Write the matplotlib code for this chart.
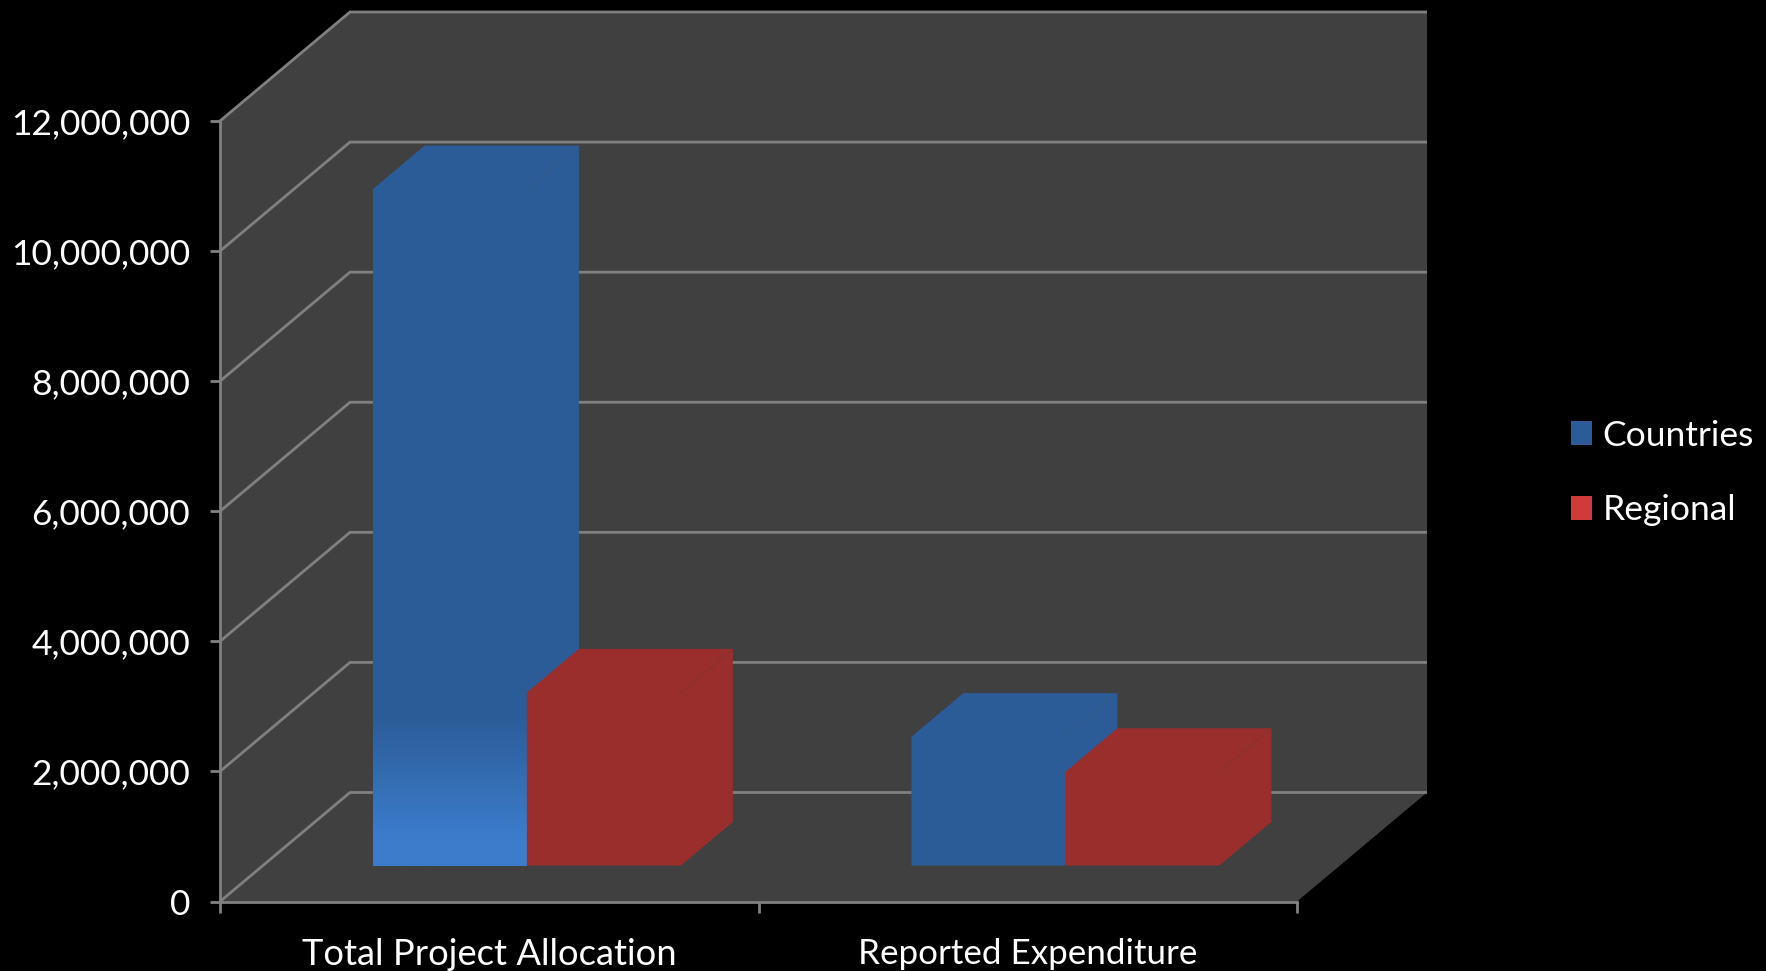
import numpy as np
import matplotlib
matplotlib.use("Agg")
import matplotlib.pyplot as plt
from matplotlib.colors import LinearSegmentedColormap
from matplotlib.patches import Patch, Polygon
from matplotlib.ticker import FuncFormatter

categories = ["Total Project Allocation", "Reported Expenditure"]
series_names = ["Countries", "Regional"]
countries = [10400000, 1980000]
regional = [2660000, 1440000]
y_ticks = [0, 2000000, 4000000, 6000000, 8000000, 10000000, 12000000]

W, H = 1766, 971
X0, X1, Y0, Y1 = 220, 1297, 901.5, 121
YMAX = 12000000
XMAX = 2.0
px_x = XMAX / (X1 - X0)
px_y = YMAX / (Y0 - Y1)
DX, DY = 130 * px_x, 109 * px_y          # full depth of the 3-D box, data units
BAR_W = 154 * px_x
BAR_START = (110 * px_x)                 # gap before group, in front plane
T_FRONT, T_BACK = 0.33, 0.73             # depth positions of bar faces

WALL = "#404040"
GRID = "#808080"
BLUE = "#2B5C97"
BLUE_LIGHT = "#3C7CCB"
RED = "#9A2E2C"
RED_LEGEND = "#CF3B38"
FONT = "Lato"
FS_Y = 25.5
FS_X = [26.2, 25.2]
FS_LEGEND = 25.5

plt.rcParams["font.family"] = [FONT, "DejaVu Sans"]
fig = plt.figure(figsize=(W / 100, H / 100), dpi=100, facecolor="black")
ax = fig.add_axes([X0 / W, 1 - Y0 / H, (X1 - X0) / W, (Y0 - Y1) / H])
ax.set_facecolor("none")


def poly(points, color, z):
    ax.add_patch(Polygon(points, closed=True, facecolor=color, edgecolor="none",
                         clip_on=False, zorder=z))


# box silhouette: left wall, floor and back wall in one shape
poly([(0, 0), (XMAX, 0), (XMAX + DX, DY), (XMAX + DX, YMAX + DY),
      (DX, YMAX + DY), (0, YMAX)], WALL, 1)

# gridlines on walls
for v in y_ticks:
    ax.plot([0, DX, XMAX + DX], [v, v + DY, v + DY], color=GRID, lw=2.0,
            clip_on=False, zorder=2, solid_joinstyle="miter",
            solid_capstyle="butt")


def bar(x_front, value, color, crease, z, gradient=False):
    x0 = x_front + T_FRONT * DX
    x1 = x0 + BAR_W
    base = T_FRONT * DY
    top = base + value
    dx = (T_BACK - T_FRONT) * DX
    dy = (T_BACK - T_FRONT) * DY
    # front, top and right side share one colour: draw the silhouette once
    poly([(x0, base), (x1, base), (x1 + dx, base + dy), (x1 + dx, top + dy),
          (x0 + dx, top + dy), (x0, top)], color, z)
    if gradient:
        cmap = LinearSegmentedColormap.from_list(
            "bar", [(0, BLUE_LIGHT), (0.043, BLUE_LIGHT), (0.22, color), (1, color)])
        ax.imshow(np.linspace(0, 1, 512).reshape(-1, 1), extent=(x0, x1, base, top),
                  origin="lower", aspect="auto", cmap=cmap, zorder=z + 0.1,
                  clip_on=False, interpolation="bilinear")
    ax.plot([x1, x1 + dx], [top, top + dy], color=crease, lw=0.5, clip_on=False,
            zorder=z + 0.2)


for i in range(len(categories)):
    start = i + BAR_START
    bar(start, countries[i], BLUE, "#3D5A80", 3 + i, gradient=(i == 0))
    bar(start + BAR_W, regional[i], RED, "#7A3434", 3.5 + i)

ax.set_xlim(0, XMAX)
ax.set_ylim(0, YMAX)

# axes, ticks and labels
for side in ("top", "right"):
    ax.spines[side].set_visible(False)
for side in ("left", "bottom"):
    ax.spines[side].set_color(GRID)
    ax.spines[side].set_linewidth(2.0)
    ax.spines[side].set_zorder(2.5)
ax.set_yticks(y_ticks)
ax.yaxis.set_major_formatter(FuncFormatter(lambda v, _: f"{v:,.0f}"))
ax.tick_params(axis="y", length=7.5, width=2.0, color=GRID, labelcolor="white",
               labelsize=FS_Y, pad=14)
ax.set_xticks([0, 1, 2])
ax.set_xticklabels([])
ax.set_xticks([0.5, 1.5], minor=True)
ax.set_xticklabels(categories, minor=True)
ax.tick_params(axis="x", which="major", length=8, width=2.0, color=GRID)
ax.tick_params(axis="x", which="minor", length=0, labelcolor="white", pad=26)
for label, size in zip(ax.get_xticklabels(minor=True), FS_X):
    label.set_fontsize(size)

# legend
handles = [Patch(facecolor=BLUE, label=series_names[0]),
           Patch(facecolor=RED_LEGEND, label=series_names[1])]
fig.legend(handles=handles, loc="center left", bbox_to_anchor=(1571 / W, 1 - 473 / H),
           frameon=False, fontsize=FS_LEGEND, labelcolor="white", handlelength=0.6,
           handleheight=0.66, handletextpad=0.3, labelspacing=1.2, borderpad=0,
           borderaxespad=0)

fig.savefig("out.png", dpi=100, facecolor="black")
